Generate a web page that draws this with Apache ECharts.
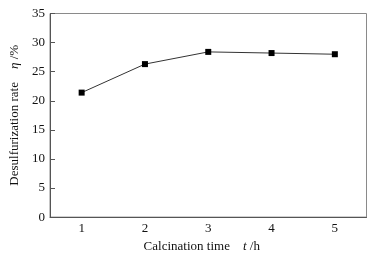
<!DOCTYPE html>
<html>
<head>
<meta charset="utf-8">
<script src="https://cdn.jsdelivr.net/npm/echarts@6/dist/echarts.min.js"></script>
<style>
  html, body { margin: 0; padding: 0; background: #fff; }
  #chart { width: 382px; height: 258px; }
</style>
</head>
<body>
<div id="chart"></div>
<script>
    // calcination time (h) and desulfurization rate (%)
    const timeCats = ['1', '2', '3', '4', '5'];
    const rateVals = [21.4, 26.3, 28.4, 28.2, 28.0];
    const serif = '"Liberation Serif", "DejaVu Serif", serif';

    const chart = echarts.init(document.getElementById('chart'));
    const options = {
        animation: false,
        grid: {
            left: 50,
            top: 13.5,
            right: 15.5,
            bottom: 36.5,
            show: true,
            borderColor: '#8a8a8a',
            borderWidth: 1
        },
        xAxis: {
            type: 'category',
            data: timeCats,
            boundaryGap: true,
            name: '{n|Calcination time}    {i|t} /h',
            nameLocation: 'middle',
            nameGap: 18,
            nameTextStyle: {
                padding: [0, 13, 0, 0],
                rich: {
                    n: { fontFamily: serif, fontSize: 13, color: '#111' },
                    i: { fontFamily: serif, fontSize: 13, fontStyle: 'italic', color: '#111' }
                },
                fontFamily: serif,
                fontSize: 13,
                color: '#111'
            },
            axisLine: { lineStyle: { color: '#555', width: 1 } },
            axisTick: {
                alignWithLabel: true,
                inside: true,
                length: 5,
                lineStyle: { color: '#555' }
            },
            axisLabel: {
                margin: 5,
                fontFamily: serif,
                fontSize: 13,
                color: '#111'
            },
            splitLine: { show: false }
        },
        yAxis: {
            type: 'value',
            min: 0,
            max: 35,
            interval: 5,
            name: '{n|Desulfurization rate}    {i|η} /%',
            nameLocation: 'middle',
            nameGap: 24,
            nameTextStyle: {
                rich: {
                    n: { fontFamily: serif, fontSize: 13, color: '#111' },
                    i: { fontFamily: serif, fontSize: 13, fontStyle: 'italic', color: '#111' }
                },
                fontFamily: serif,
                fontSize: 13,
                color: '#111'
            },
            axisLine: { show: true, lineStyle: { color: '#555', width: 1 } },
            axisTick: {
                show: true,
                inside: true,
                length: 5,
                lineStyle: { color: '#555' }
            },
            axisLabel: {
                margin: 5,
                fontFamily: serif,
                fontSize: 13,
                color: '#111'
            },
            splitLine: { show: false }
        },
        series: [
            {
                type: 'line',
                data: rateVals,
                symbol: 'rect',
                symbolSize: 6,
                itemStyle: { color: '#000' },
                lineStyle: { color: '#333', width: 1 }
            }
        ]
    };
    chart.setOption(options, true);
</script>
</body>
</html>
